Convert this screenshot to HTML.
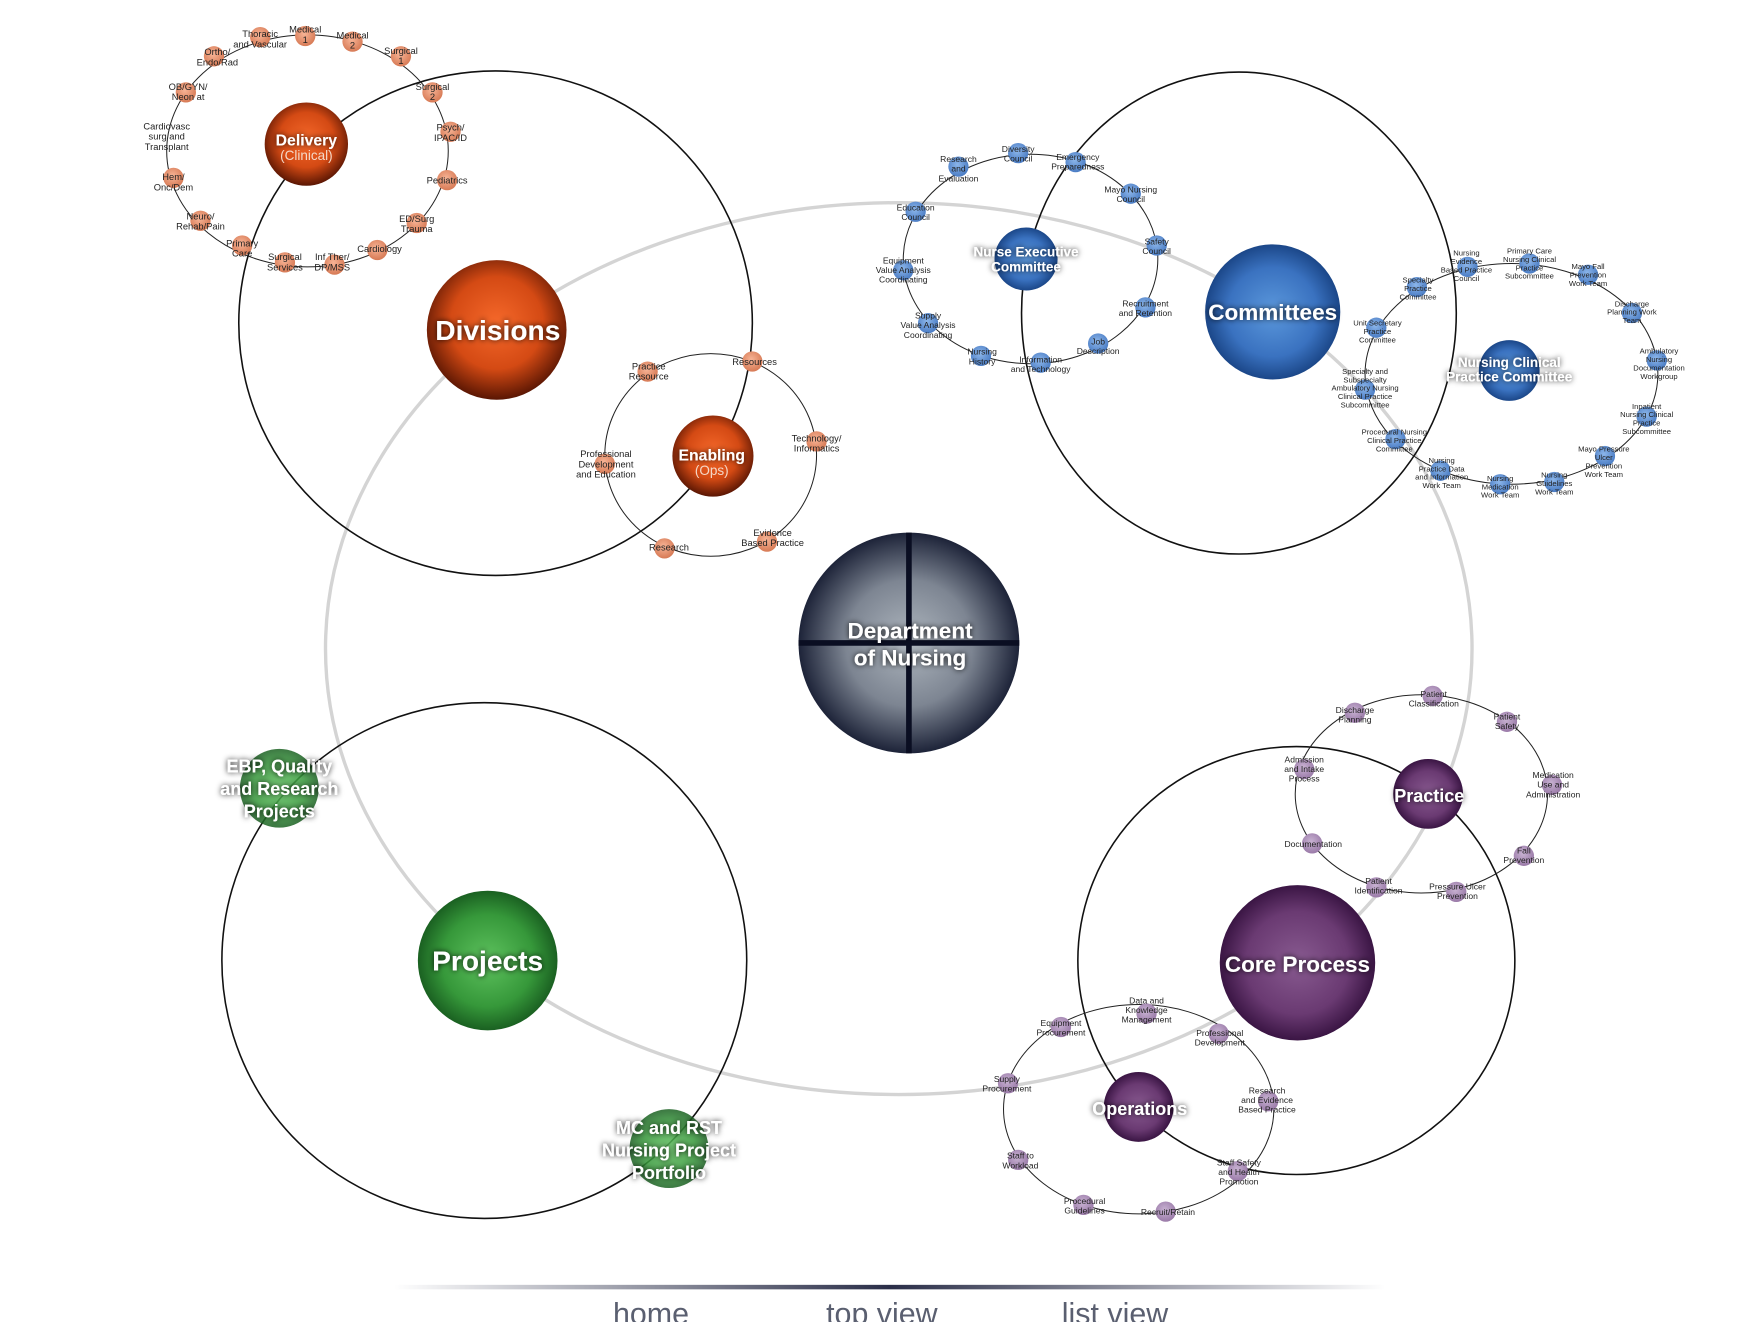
<!DOCTYPE html>
<html><head><meta charset="utf-8"><style>
html,body{margin:0;padding:0;background:#fff;}
svg{display:block;}
text{font-family:"Liberation Sans Narrow","Liberation Sans",sans-serif;text-anchor:middle;}
.s{font-size:8.3px;fill:#222;}
.w{fill:#fff;font-weight:bold;filter:url(#sh);}
.nav{font-family:"Liberation Sans",sans-serif;font-size:27px;fill:#5a5f70;}
</style></head><body>
<svg width="1757" height="1322" viewBox="0 0 1560 1174" preserveAspectRatio="none" xmlns="http://www.w3.org/2000/svg">
<defs>
<radialGradient id="go" cx="50%" cy="45%" r="55%"><stop offset="0" stop-color="#f5682a"/><stop offset=".6" stop-color="#d44a14"/><stop offset="1" stop-color="#5a1603"/></radialGradient>
<radialGradient id="gb" cx="50%" cy="50%" r="55%"><stop offset="0" stop-color="#5b98dc"/><stop offset=".6" stop-color="#3a72c0"/><stop offset="1" stop-color="#123a78"/></radialGradient>
<radialGradient id="gg" cx="50%" cy="50%" r="55%"><stop offset="0" stop-color="#5ec25e"/><stop offset=".6" stop-color="#36983a"/><stop offset="1" stop-color="#12501a"/></radialGradient>
<radialGradient id="gp" cx="50%" cy="50%" r="55%"><stop offset="0" stop-color="#885a90"/><stop offset=".6" stop-color="#6a3a72"/><stop offset="1" stop-color="#2c0a36"/></radialGradient>
<radialGradient id="gd" cx="50%" cy="50%" r="52%"><stop offset="0" stop-color="#aeb6be"/><stop offset=".55" stop-color="#7d8592"/><stop offset="1" stop-color="#141a30"/></radialGradient>
<radialGradient id="so" cx="45%" cy="40%" r="60%"><stop offset="0" stop-color="#f7b496"/><stop offset="1" stop-color="#d77a55"/></radialGradient>
<radialGradient id="sb" cx="45%" cy="40%" r="60%"><stop offset="0" stop-color="#8cb6ea"/><stop offset="1" stop-color="#4a7cc4"/></radialGradient>
<radialGradient id="sp" cx="45%" cy="40%" r="60%"><stop offset="0" stop-color="#c8b2d2"/><stop offset="1" stop-color="#9a7aa8"/></radialGradient>
<linearGradient id="nv" x1="0" x2="1"><stop offset="0" stop-color="#fff"/><stop offset=".5" stop-color="#2a2e48"/><stop offset="1" stop-color="#fff"/></linearGradient>
<filter id="sh" x="-30%" y="-50%" width="160%" height="200%"><feDropShadow dx="0" dy="0" stdDeviation="2.5" flood-color="#000" flood-opacity=".9"/></filter>
</defs>

<!-- gray connector -->
<ellipse cx="798" cy="576" rx="509" ry="396" fill="none" stroke="#d4d4d4" stroke-width="3"/>

<!-- black group circles -->
<g fill="none" stroke="#111" stroke-width="1.4">
<ellipse cx="440" cy="287" rx="228" ry="224"/>
<ellipse cx="1100" cy="278" rx="193" ry="214"/>
<ellipse cx="430" cy="853" rx="233" ry="229"/>
<ellipse cx="1151" cy="853" rx="194" ry="190"/>
</g>
<g fill="none" stroke="#222" stroke-width="0.9">
<ellipse cx="273" cy="134" rx="125" ry="103"/>
<ellipse cx="631" cy="404" rx="94" ry="90"/>
<ellipse cx="915" cy="230" rx="113" ry="93"/>
<ellipse cx="1342" cy="332" rx="130" ry="98"/>
<ellipse cx="1262" cy="705" rx="112" ry="88"/>
<ellipse cx="1011" cy="985" rx="120" ry="93"/>
</g>

<!-- orange small nodes -->
<g fill="url(#so)">
<circle cx="231" cy="33" r="9"/><circle cx="271" cy="32" r="9"/><circle cx="313" cy="37" r="9"/><circle cx="356" cy="50" r="9"/><circle cx="384" cy="82" r="9"/><circle cx="400" cy="117" r="9"/><circle cx="397" cy="160" r="9"/><circle cx="370" cy="198" r="9"/><circle cx="335" cy="222" r="9"/><circle cx="297" cy="235" r="9"/><circle cx="253" cy="233" r="9"/><circle cx="215" cy="218" r="9"/><circle cx="178" cy="196" r="9"/><circle cx="154" cy="158" r="9"/><circle cx="165" cy="82" r="9"/><circle cx="190" cy="50" r="9"/>
<circle cx="575" cy="330" r="9"/><circle cx="668" cy="321" r="9"/><circle cx="725" cy="392" r="9"/><circle cx="681" cy="481" r="9"/><circle cx="590" cy="487" r="9"/><circle cx="537" cy="412" r="9"/>
</g>
<g class="s">
<text x="231" y="33">Thoracic<tspan x="231" dy="9">and Vascular</tspan></text>
<text x="271" y="29">Medical<tspan x="271" dy="9">1</tspan></text>
<text x="313" y="34">Medical<tspan x="313" dy="9">2</tspan></text>
<text x="356" y="48">Surgical<tspan x="356" dy="9">1</tspan></text>
<text x="384" y="80">Surgical<tspan x="384" dy="9">2</tspan></text>
<text x="400" y="116">Psych/<tspan x="400" dy="9">IPAC/ID</tspan></text>
<text x="397" y="163">Pediatrics</text>
<text x="370" y="197">ED/Surg<tspan x="370" dy="9">Trauma</tspan></text>
<text x="337" y="224">Cardiology</text>
<text x="295" y="231">Inf Ther/<tspan x="295" dy="9">DP/MSS</tspan></text>
<text x="253" y="231">Surgical<tspan x="253" dy="9">Services</tspan></text>
<text x="215" y="219">Primary<tspan x="215" dy="9">Care</tspan></text>
<text x="178" y="195">Neuro/<tspan x="178" dy="9">Rehab/Pain</tspan></text>
<text x="154" y="160">Hem/<tspan x="154" dy="9">Onc/Dem</tspan></text>
<text x="148" y="115">Cardiovasc<tspan x="148" dy="9">surg and</tspan><tspan x="148" dy="9">Transplant</tspan></text>
<text x="167" y="80">OB/GYN/<tspan x="167" dy="9">Neon at</tspan></text>
<text x="193" y="49">Ortho/<tspan x="193" dy="9">Endo/Rad</tspan></text>
<text x="576" y="328">Practice<tspan x="576" dy="9">Resource</tspan></text>
<text x="670" y="324">Resources</text>
<text x="725" y="392">Technology/<tspan x="725" dy="9">Informatics</tspan></text>
<text x="686" y="476">Evidence<tspan x="686" dy="9">Based Practice</tspan></text>
<text x="594" y="489">Research</text>
<text x="538" y="406">Professional<tspan x="538" dy="9">Development</tspan><tspan x="538" dy="9">and Education</tspan></text>
</g>

<!-- blue small nodes -->
<g fill="url(#sb)">
<circle cx="904" cy="136" r="9"/><circle cx="955" cy="144" r="9"/><circle cx="1004" cy="172" r="9"/><circle cx="1027" cy="218" r="9"/><circle cx="1017" cy="273" r="9"/><circle cx="975" cy="305" r="9"/><circle cx="924" cy="322" r="9"/><circle cx="871" cy="316" r="9"/><circle cx="824" cy="287" r="9"/><circle cx="802" cy="240" r="9"/><circle cx="813" cy="188" r="9"/><circle cx="851" cy="148" r="9"/>
<circle cx="1303" cy="237" r="9"/><circle cx="1358" cy="234" r="9"/><circle cx="1410" cy="244" r="9"/><circle cx="1449" cy="278" r="9"/><circle cx="1471" cy="320" r="9"/><circle cx="1462" cy="370" r="9"/><circle cx="1425" cy="405" r="9"/><circle cx="1380" cy="428" r="9"/><circle cx="1332" cy="430" r="9"/><circle cx="1279" cy="418" r="9"/><circle cx="1239" cy="390" r="9"/><circle cx="1212" cy="346" r="9"/><circle cx="1222" cy="291" r="9"/><circle cx="1258" cy="255" r="9"/>
</g>
<g class="s" style="font-size:7.6px">
<text x="904" y="135">Diversity<tspan x="904" dy="8.5">Council</tspan></text>
<text x="957" y="142">Emergency<tspan x="957" dy="8.5">Preparedness</tspan></text>
<text x="1004" y="171">Mayo Nursing<tspan x="1004" dy="8.5">Council</tspan></text>
<text x="1027" y="217">Safety<tspan x="1027" dy="8.5">Council</tspan></text>
<text x="1017" y="272">Recruitment<tspan x="1017" dy="8.5">and Retention</tspan></text>
<text x="975" y="306">Job<tspan x="975" dy="8.5">Description</tspan></text>
<text x="924" y="322">Information<tspan x="924" dy="8.5">and Technology</tspan></text>
<text x="872" y="315">Nursing<tspan x="872" dy="8.5">History</tspan></text>
<text x="824" y="283">Supply<tspan x="824" dy="8.5">Value Analysis</tspan><tspan x="824" dy="8.5">Coordinating</tspan></text>
<text x="802" y="234">Equipment<tspan x="802" dy="8.5">Value Analysis</tspan><tspan x="802" dy="8.5">Coordinating</tspan></text>
<text x="813" y="187">Education<tspan x="813" dy="8.5">Council</tspan></text>
<text x="851" y="144">Research<tspan x="851" dy="8.5">and</tspan><tspan x="851" dy="8.5">Evaluation</tspan></text>
<g style="font-size:6.8px">
<text x="1302" y="227">Nursing<tspan x="1302" dy="7.5">Evidence</tspan><tspan x="1302" dy="7.5">Based Practice</tspan><tspan x="1302" dy="7.5">Council</tspan></text>
<text x="1358" y="225">Primary Care<tspan x="1358" dy="7.5">Nursing Clinical</tspan><tspan x="1358" dy="7.5">Practice</tspan><tspan x="1358" dy="7.5">Subcommittee</tspan></text>
<text x="1410" y="239">Mayo Fall<tspan x="1410" dy="7.5">Prevention</tspan><tspan x="1410" dy="7.5">Work Team</tspan></text>
<text x="1449" y="272">Discharge<tspan x="1449" dy="7.5">Planning Work</tspan><tspan x="1449" dy="7.5">Team</tspan></text>
<text x="1473" y="314">Ambulatory<tspan x="1473" dy="7.5">Nursing</tspan><tspan x="1473" dy="7.5">Documentation</tspan><tspan x="1473" dy="7.5">Workgroup</tspan></text>
<text x="1462" y="363">Inpatient<tspan x="1462" dy="7.5">Nursing Clinical</tspan><tspan x="1462" dy="7.5">Practice</tspan><tspan x="1462" dy="7.5">Subcommittee</tspan></text>
<text x="1424" y="401">Mayo Pressure<tspan x="1424" dy="7.5">Ulcer</tspan><tspan x="1424" dy="7.5">Prevention</tspan><tspan x="1424" dy="7.5">Work Team</tspan></text>
<text x="1380" y="424">Nursing<tspan x="1380" dy="7.5">Guidelines</tspan><tspan x="1380" dy="7.5">Work Team</tspan></text>
<text x="1332" y="427">Nursing<tspan x="1332" dy="7.5">Medication</tspan><tspan x="1332" dy="7.5">Work Team</tspan></text>
<text x="1280" y="411">Nursing<tspan x="1280" dy="7.5">Practice Data</tspan><tspan x="1280" dy="7.5">and Information</tspan><tspan x="1280" dy="7.5">Work Team</tspan></text>
<text x="1238" y="386">Procedural Nursing<tspan x="1238" dy="7.5">Clinical Practice</tspan><tspan x="1238" dy="7.5">Committee</tspan></text>
<text x="1212" y="332">Specialty and<tspan x="1212" dy="7.5">Subspecialty</tspan><tspan x="1212" dy="7.5">Ambulatory Nursing</tspan><tspan x="1212" dy="7.5">Clinical Practice</tspan><tspan x="1212" dy="7.5">Subcommittee</tspan></text>
<text x="1223" y="289">Unit Secretary<tspan x="1223" dy="7.5">Practice</tspan><tspan x="1223" dy="7.5">Committee</tspan></text>
<text x="1259" y="251">Specialty<tspan x="1259" dy="7.5">Practice</tspan><tspan x="1259" dy="7.5">Committee</tspan></text>
</g>
</g>

<!-- purple small nodes -->
<g fill="url(#sp)">
<circle cx="1203" cy="633" r="9"/><circle cx="1272" cy="618" r="9"/><circle cx="1338" cy="641" r="9"/><circle cx="1378" cy="697" r="9"/><circle cx="1353" cy="760" r="9"/><circle cx="1293" cy="792" r="9"/><circle cx="1222" cy="788" r="9"/><circle cx="1165" cy="749" r="9"/><circle cx="1158" cy="683" r="9"/>
<circle cx="1018" cy="900" r="9"/><circle cx="942" cy="912" r="9"/><circle cx="895" cy="962" r="9"/><circle cx="904" cy="1030" r="9"/><circle cx="962" cy="1070" r="9"/><circle cx="1035" cy="1076" r="9"/><circle cx="1099" cy="1040" r="9"/><circle cx="1126" cy="978" r="9"/><circle cx="1082" cy="918" r="9"/>
</g>
<g class="s" style="font-size:7.6px">
<text x="1203" y="633">Discharge<tspan x="1203" dy="8.5">Planning</tspan></text>
<text x="1273" y="619">Patient<tspan x="1273" dy="8.5">Classification</tspan></text>
<text x="1338" y="639">Patient<tspan x="1338" dy="8.5">Safety</tspan></text>
<text x="1379" y="691">Medication<tspan x="1379" dy="8.5">Use and</tspan><tspan x="1379" dy="8.5">Administration</tspan></text>
<text x="1353" y="758">Fall<tspan x="1353" dy="8.5">Prevention</tspan></text>
<text x="1294" y="790">Pressure Ulcer<tspan x="1294" dy="8.5">Prevention</tspan></text>
<text x="1224" y="785">Patient<tspan x="1224" dy="8.5">Identification</tspan></text>
<text x="1166" y="752">Documentation</text>
<text x="1158" y="677">Admission<tspan x="1158" dy="8.5">and Intake</tspan><tspan x="1158" dy="8.5">Process</tspan></text>
<text x="1018" y="891">Data and<tspan x="1018" dy="8.5">Knowledge</tspan><tspan x="1018" dy="8.5">Management</tspan></text>
<text x="942" y="911">Equipment<tspan x="942" dy="8.5">Procurement</tspan></text>
<text x="894" y="961">Supply<tspan x="894" dy="8.5">Procurement</tspan></text>
<text x="906" y="1029">Staff to<tspan x="906" dy="8.5">Workload</tspan></text>
<text x="963" y="1069">Procedural<tspan x="963" dy="8.5">Guidelines</tspan></text>
<text x="1037" y="1079">Recruit/Retain</text>
<text x="1100" y="1035">Staff Safety<tspan x="1100" dy="8.5">and Health</tspan><tspan x="1100" dy="8.5">Promotion</tspan></text>
<text x="1125" y="971">Research<tspan x="1125" dy="8.5">and Evidence</tspan><tspan x="1125" dy="8.5">Based Practice</tspan></text>
<text x="1083" y="920">Professional<tspan x="1083" dy="8.5">Development</tspan></text>
</g>

<!-- main nodes -->
<ellipse cx="441" cy="293" rx="62" ry="62" fill="url(#go)"/>
<circle cx="272" cy="128" r="37" fill="url(#go)"/>
<circle cx="633" cy="405" r="36" fill="url(#go)"/>
<circle cx="1130" cy="277" r="60" fill="url(#gb)"/>
<circle cx="911" cy="230" r="28" fill="url(#gb)"/>
<circle cx="1340" cy="329" r="27" fill="url(#gb)"/>
<circle cx="433" cy="853" r="62" fill="url(#gg)"/>
<circle cx="248" cy="700" r="35" fill="url(#gg)" opacity=".85"/>
<circle cx="594" cy="1020" r="35" fill="url(#gg)" opacity=".85"/>
<circle cx="1152" cy="855" r="69" fill="url(#gp)"/>
<circle cx="1268" cy="705" r="31" fill="url(#gp)"/>
<circle cx="1011" cy="983" r="31" fill="url(#gp)"/>
<circle cx="807" cy="571" r="98" fill="url(#gd)"/>
<line x1="807" y1="473" x2="807" y2="669" stroke="#0a0e22" stroke-width="5"/>
<line x1="709" y1="571" x2="905" y2="571" stroke="#0a0e22" stroke-width="5"/>

<!-- main labels -->
<text class="w" x="442" y="302" style="font-size:25px">Divisions</text>
<text class="w" x="272" y="129" style="font-size:14px">Delivery</text>
<text x="272" y="142" style="font-size:12px;fill:#f4d8c8">(Clinical)</text>
<text class="w" x="632" y="409" style="font-size:14px">Enabling</text>
<text x="632" y="422" style="font-size:12px;fill:#f4d8c8">(Ops)</text>
<text class="w" x="1130" y="284" style="font-size:20px">Committees</text>
<text class="w" x="911" y="228" style="font-size:12px">Nurse Executive<tspan x="911" dy="13">Committee</tspan></text>
<text class="w" x="1340" y="326" style="font-size:12px">Nursing Clinical<tspan x="1340" dy="13">Practice Committee</tspan></text>
<text class="w" x="433" y="862" style="font-size:25px">Projects</text>
<text class="w" x="248" y="686" style="font-size:16px">EBP, Quality<tspan x="248" dy="20">and Research</tspan><tspan x="248" dy="20">Projects</tspan></text>
<text class="w" x="594" y="1007" style="font-size:16px">MC and RST<tspan x="594" dy="20">Nursing Project</tspan><tspan x="594" dy="20">Portfolio</tspan></text>
<text class="w" x="1152" y="863" style="font-size:20px">Core Process</text>
<text class="w" x="1269" y="712" style="font-size:16px">Practice</text>
<text class="w" x="1012" y="990" style="font-size:16px">Operations</text>
<text class="w" x="808" y="567" style="font-size:20px">Department<tspan x="808" dy="24">of Nursing</tspan></text>

<!-- nav -->
<rect x="350" y="1141" width="880" height="4" fill="url(#nv)"/>
<text class="nav" x="578" y="1176">home</text>
<text class="nav" x="783" y="1176">top view</text>
<text class="nav" x="990" y="1176">list view</text>
</svg>
</body></html>
